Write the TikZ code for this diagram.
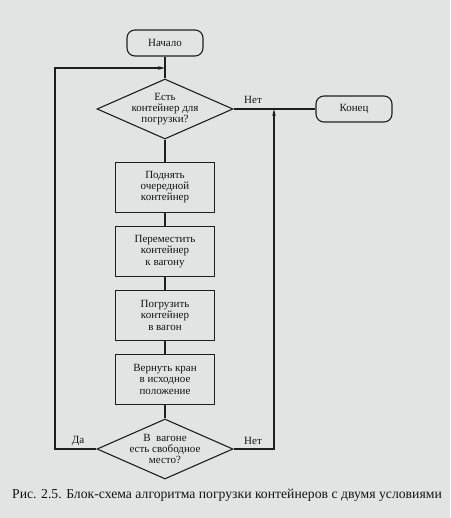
\documentclass[tikz,border=0pt]{standalone}
\usepackage{fontspec}
\setmainfont{Liberation Serif}
\usetikzlibrary{positioning, arrows.meta, shapes.geometric}
\definecolor{bgPaper}{HTML}{E2E4E4}
\definecolor{lineDark}{HTML}{1E1E1E}
\definecolor{textMain}{HTML}{141414}
\tikzset{
  terminal/.style={draw=lineDark, rounded corners=8pt,
    minimum width=76pt, minimum height=26pt,
    font=\fontsize{11}{11.4}\selectfont, text=textMain, line width=1.1pt, align=center},
  actionbox/.style={draw=lineDark, minimum width=99pt, minimum height=50pt,
    inner sep=0pt, font=\fontsize{11}{11.4}\selectfont, text=textMain,
    line width=1.1pt, align=center},
  decision/.style={draw=lineDark, shape=diamond, aspect=2.27,
    minimum width=136pt, minimum height=60pt, inner sep=-1pt,
    font=\fontsize{11}{11.4}\selectfont, text=textMain, line width=1.1pt, align=center},
  stdline/.style={line width=1.1pt, color=lineDark},
  stdarrow/.style={-{Stealth[length=7pt, width=3.5pt]}, line width=1.1pt, color=lineDark},
  branchlabel/.style={font=\fontsize{11}{12}\selectfont, text=textMain, inner sep=1pt},
}
\begin{document}
\begin{tikzpicture}[x=1pt, y=-1pt]

  \fill[bgPaper] (0,0) rectangle (450,518);
  \useasboundingbox (0,0) rectangle (450,518);

  % === Main column ===
  \node[terminal] (start) at (165,43) {Начало};
  \node[decision] (d1) at (165,109) {Есть\\контейнер для\\погрузки?};
  \node[actionbox, below=22pt of d1] (lift) {Поднять\\очередной\\контейнер};
  \node[actionbox, below=13pt of lift] (move) {Переместить\\контейнер\\к вагону};
  \node[actionbox, below=13pt of move] (load) {Погрузить\\контейнер\\в вагон};
  \node[actionbox, below=13pt of load] (back) {Вернуть кран\\в исходное\\положение};
  \node[decision] (d2) at (165,449) {В\ \ вагоне\\есть свободное\\место?};

  % === Right: end ===
  \node[terminal] (stop) at (354,109) {Конец};

  % Junction points
  \coordinate (loopIn) at (165,68);
  \coordinate (joinIn) at (274,109);

  % === Straight links ===
  \draw[stdline] (start) -- (d1);
  \foreach \a/\b in {d1/lift, lift/move, move/load, load/back, back/d2} {
    \draw[stdline] (\a) -- (\b);
  }
  \draw[stdline] (d1.east) -- (stop.west);

  % Loop back: yes
  \draw[stdarrow] (d2.west) -- (55,449) |- (loopIn);
  % No place left: go to end
  \draw[stdarrow] (d2.east) -| (joinIn);

  % Branch labels
  \node[branchlabel] (noA) at (253,100) {Нет};
  \node[branchlabel] (yesB) at (78,441) {Да};
  \node[branchlabel] (noB) at (253,441) {Нет};

  % Caption
  \node[font=\fontsize{13.7}{15}\selectfont, text=textMain] (caption) at (227,495)
    {Рис. 2.5. Блок-схема алгоритма погрузки контейнеров с двумя условиями};

\end{tikzpicture}
\end{document}
